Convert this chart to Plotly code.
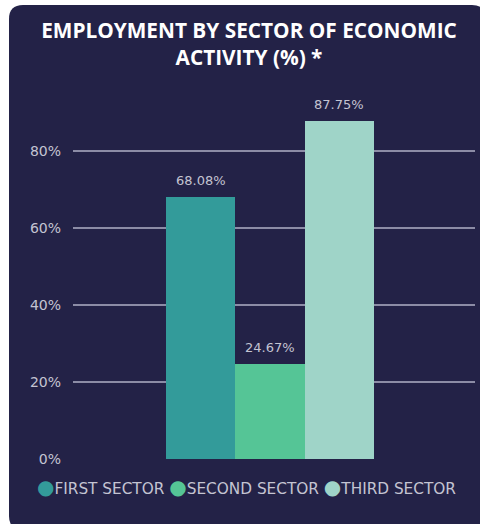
import plotly.graph_objects as go

# Employment share by sector (%)
sectors = ["FIRST SECTOR", "SECOND SECTOR", "THIRD SECTOR"]
shares = [68.08, 24.67, 87.75]
colors = ["#339b9a", "#55c596", "#9fd4c8"]
y_ticks = [0, 20, 40, 60, 80]
y_tick_labels = [f"{v}%" for v in y_ticks]

W, H = 480, 524
ML, MR, MT, MB = 73, 5, 97, 65
PW, PH = W - ML - MR, H - MT - MB

NAVY = "#232247"
GRID = "#8c8ca6"
LABEL = "#c4c4d2"


def px_x(px):
    return (px - ML) / PW


def px_y(py):
    return (H - MB - py) / PH


fig = go.Figure()
for name, val, col in zip(sectors, shares, colors):
    fig.add_bar(x=[name], y=[val], name=name, marker_color=col,
                marker_line_width=0, showlegend=False)

# value labels above each bar
for name, val in zip(sectors, shares):
    fig.add_annotation(x=name, y=val, text=f"{val:.2f}%", showarrow=False,
                       yanchor="bottom", yshift=7,
                       font=dict(family="DejaVu Sans", size=13, color=LABEL))

# rounded dark panel behind the chart
x0, x1, y0, y1, r = px_x(9), px_x(486), px_y(5), px_y(530), 14
rx, ry = r / PW, r / PH
panel = (f"M {x0 + rx} {y0} L {x1 - rx} {y0} Q {x1} {y0} {x1} {y0 - ry} "
         f"L {x1} {y1 + ry} Q {x1} {y1} {x1 - rx} {y1} "
         f"L {x0 + rx} {y1} Q {x0} {y1} {x0} {y1 + ry} "
         f"L {x0} {y0 - ry} Q {x0} {y0} {x0 + rx} {y0} Z")
fig.add_shape(type="path", path=panel, xref="paper", yref="paper",
              fillcolor=NAVY, line_width=0, layer="below")

# legend row with round markers
legend_parts = [
    f"<span style='color:{c};font-size:20px'>●</span>{n}"
    for n, c in zip(sectors, colors)
]
fig.add_annotation(xref="paper", yref="paper", x=px_x(246), y=px_y(487),
                   text=" ".join(legend_parts), showarrow=False,
                   xanchor="center", yanchor="middle",
                   font=dict(family="DejaVu Sans", size=15.3, color=LABEL))

fig.update_layout(
    width=W, height=H,
    margin=dict(l=ML, r=MR, t=MT, b=MB, pad=0),
    paper_bgcolor="white",
    plot_bgcolor="rgba(0,0,0,0)",
    barmode="relative",
    bargap=0,
    title=dict(text="EMPLOYMENT BY SECTOR OF ECONOMIC<br>ACTIVITY (%) *",
               x=249 / W, xanchor="center", xref="container",
               y=1 - 38 / H, yanchor="middle", yref="container",
               font=dict(family="Open Sans", size=20.8, color="white",
                         weight="bold")),
    xaxis=dict(type="category", range=[-1.841, 3.957], showticklabels=False,
               showgrid=False, zeroline=False, showline=False, fixedrange=True),
    yaxis=dict(range=[0, 94], tickmode="array", tickvals=y_ticks,
               ticktext=y_tick_labels,
               showgrid=True, gridcolor=GRID, gridwidth=2, zeroline=False,
               showline=False, ticks="", ticklabelstandoff=11,
               tickfont=dict(family="DejaVu Sans", size=14, color=LABEL),
               fixedrange=True),
    showlegend=False,
)

fig.write_html("out.html")
